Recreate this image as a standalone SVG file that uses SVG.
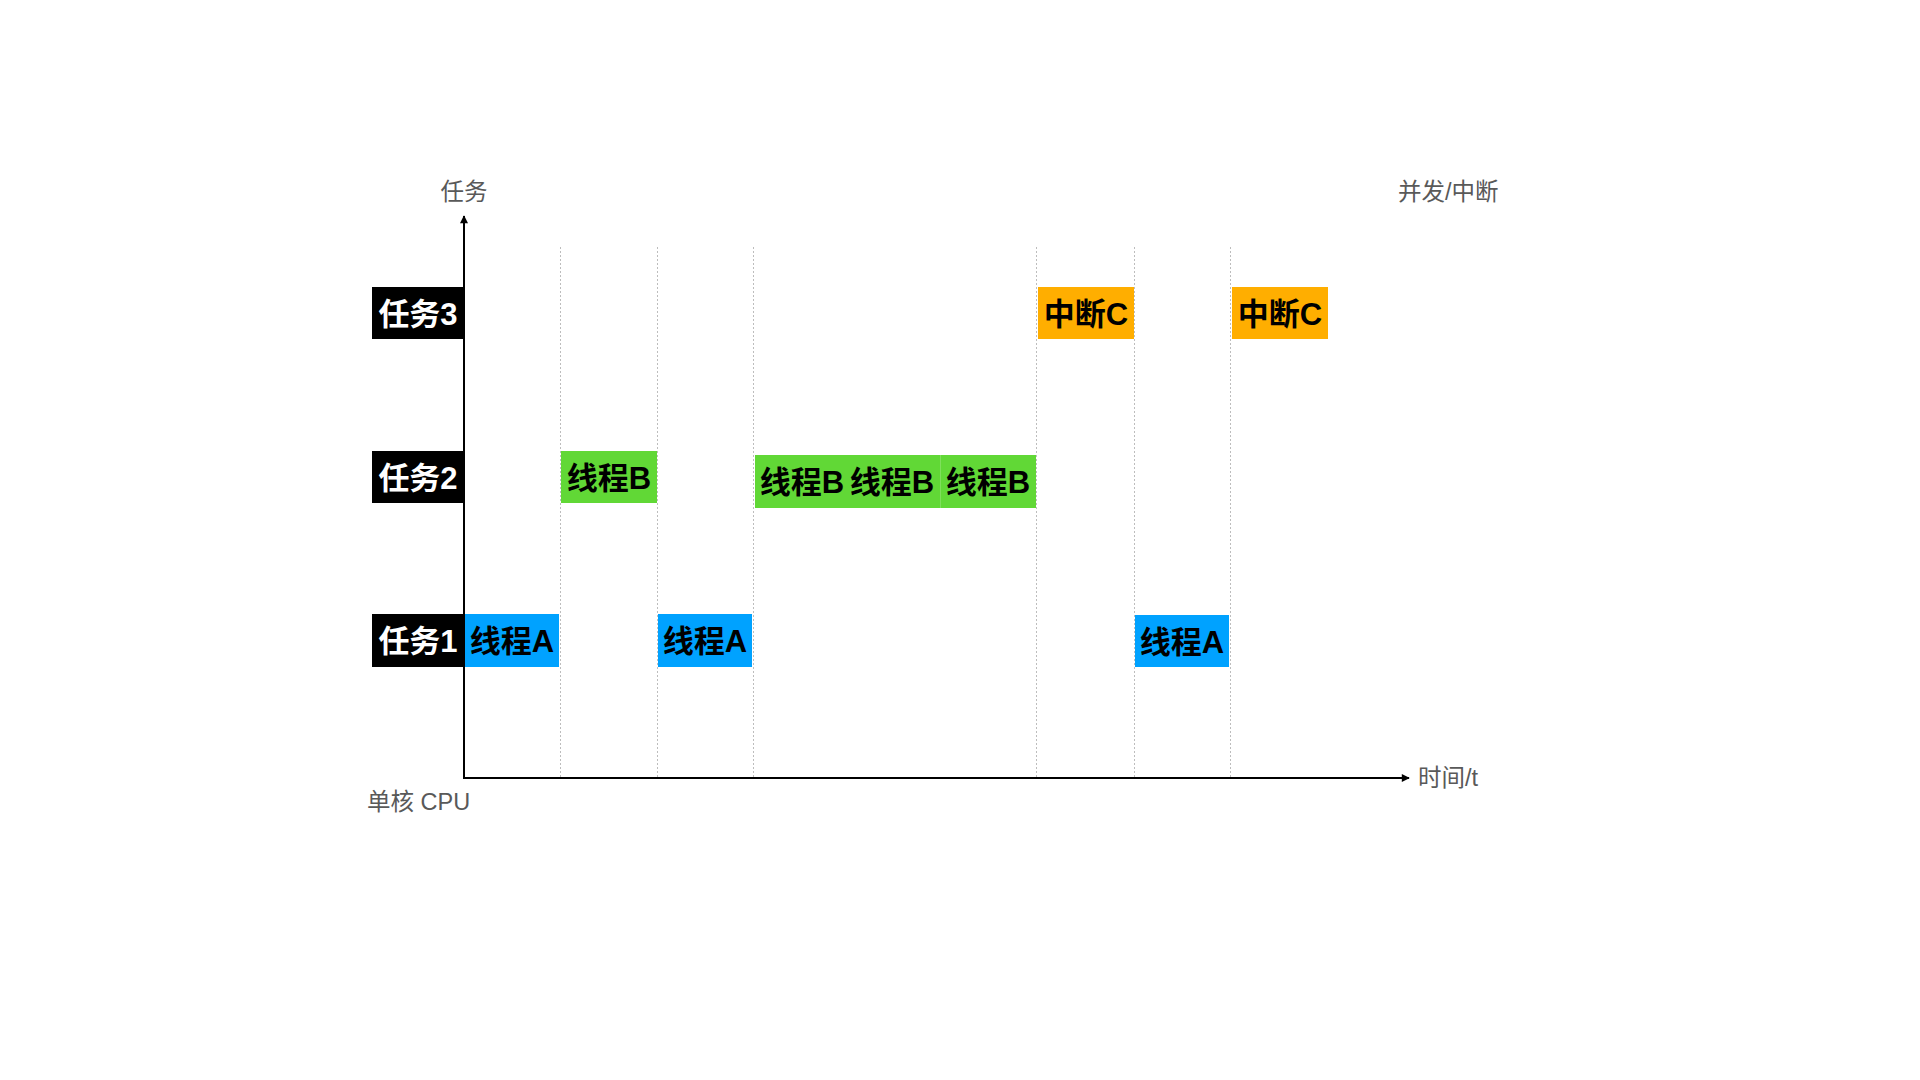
<svg xmlns="http://www.w3.org/2000/svg" width="1920" height="1080" viewBox="0 0 1920 1080">
<defs>
<marker id="arr" viewBox="0 0 10 10" refX="9" refY="5" markerWidth="9" markerHeight="8" markerUnits="userSpaceOnUse" orient="auto">
<path d="M0,0 L10,5 L0,10 z" fill="#000"/>
</marker>
<style>
.ax{font-family:"Liberation Sans","Noto Sans CJK SC",sans-serif;font-size:23.5px;fill:#595959}
.bx{font-family:"Liberation Sans","Noto Sans CJK SC",sans-serif;font-size:31px;font-weight:bold;text-anchor:middle;dominant-baseline:central}
.wt{fill:#fff}
.bk{fill:#000}
.grid{stroke:#bdbdbd;stroke-width:1;stroke-dasharray:2,2;fill:none}
.blue{fill:#00A2FF}
.green{fill:#61D836}
.orange{fill:#FFAE00}
</style>
</defs>
<rect width="1920" height="1080" fill="#fff"/>
<g id="grid">
<line class="grid" x1="560.5" y1="247" x2="560.5" y2="778"/>
<line class="grid" x1="657.5" y1="247" x2="657.5" y2="778"/>
<line class="grid" x1="753.5" y1="247" x2="753.5" y2="778"/>
<line class="grid" x1="1036.5" y1="247" x2="1036.5" y2="778"/>
<line class="grid" x1="1134.5" y1="247" x2="1134.5" y2="778"/>
<line class="grid" x1="1230.5" y1="247" x2="1230.5" y2="778"/>
</g>
<g id="task3"><rect x="372" y="287" width="91" height="52" fill="#000"/><text class="bx wt" x="418" y="314">任务3</text></g>
<g id="task2"><rect x="372" y="451" width="91" height="52" fill="#000"/><text class="bx wt" x="418" y="478">任务2</text></g>
<g id="task1"><rect x="372" y="614" width="91" height="53" fill="#000"/><text class="bx wt" x="418" y="641">任务1</text></g>
<g id="a1"><rect class="blue" x="465" y="614" width="94" height="53"/><text class="bx bk" x="512" y="641">线程A</text></g>
<g id="b1"><rect class="green" x="561" y="451" width="96" height="52"/><text class="bx bk" x="609" y="478">线程B</text></g>
<g id="a2"><rect class="blue" x="658" y="614" width="94" height="53"/><text class="bx bk" x="705" y="641">线程A</text></g>
<g id="b2"><rect class="green" x="755" y="455" width="281" height="53"/><line x1="940.5" y1="455" x2="940.5" y2="508" stroke="#7fe05c" stroke-width="1"/><text class="bx bk" x="802" y="482">线程B</text><text class="bx bk" x="892" y="482">线程B</text><text class="bx bk" x="988" y="482">线程B</text></g>
<g id="c1"><rect class="orange" x="1038" y="287" width="96" height="52"/><text class="bx bk" x="1086" y="314">中断C</text></g>
<g id="a3"><rect class="blue" x="1135" y="615" width="94" height="52"/><text class="bx bk" x="1182" y="642">线程A</text></g>
<g id="c2"><rect class="orange" x="1232" y="287" width="96" height="52"/><text class="bx bk" x="1280" y="314">中断C</text></g>
<g id="connectors">
<line x1="464" y1="779" x2="464" y2="216" stroke="#000" stroke-width="2" marker-end="url(#arr)"/>
<line x1="463" y1="778" x2="1409" y2="778" stroke="#000" stroke-width="2" marker-end="url(#arr)"/>
</g>
<g id="labels">
<text class="ax" x="464" y="200" text-anchor="middle">任务</text>
<text class="ax" x="1398" y="200">并发/中断</text>
<text class="ax" x="1418" y="786">时间/t</text>
<text class="ax" x="367" y="810">单核 CPU</text>
</g>
</svg>
